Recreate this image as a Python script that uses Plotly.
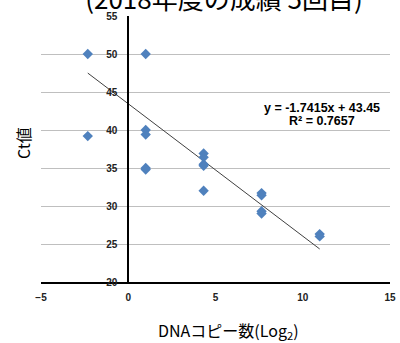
import plotly.graph_objects as go

# data
x_log2 = [-2.32, -2.32,
          1.0, 1.0, 1.0, 1.0, 1.0,
          4.32, 4.32, 4.32, 4.32, 4.32,
          7.64, 7.64, 7.64, 7.64,
          10.97, 10.97]
ct_values = [50.0, 39.2,
             50.0, 40.0, 39.4, 35.0, 34.8,
             36.9, 36.4, 35.5, 35.3, 32.0,
             31.7, 31.4, 29.3, 29.0,
             26.3, 26.0]
trend_slope = -1.7415
trend_intercept = 43.45
r_squared = 0.7657
x_ticks = [-5, 0, 5, 10, 15]
y_ticks = [20, 25, 30, 35, 40, 45, 50, 55]

x_min, x_max = min(x_log2), max(x_log2)
trend_x = [x_min, x_max]
trend_y = [trend_slope * v + trend_intercept for v in trend_x]

fig = go.Figure()
fig.add_trace(go.Scatter(x=trend_x, y=trend_y, mode="lines",
                         line=dict(color="#404040", width=1), hoverinfo="skip",
                         showlegend=False))
fig.add_trace(go.Scatter(x=x_log2, y=ct_values, mode="markers",
                         marker=dict(symbol="diamond", size=8, color="#4f81bd",
                                     line=dict(width=0)),
                         showlegend=False))

tick_font = dict(family="Liberation Sans, Arial", size=10, color="#222", weight="bold")

L, T, W, H = 41, 15.5, 349, 266.2


def px_x(px):
    return (px - L) / W


def px_y(py):
    return 1 - (py - T) / H


fig.update_layout(
    width=400, height=343,
    margin=dict(l=41, r=10, t=15.5, b=61.3, autoexpand=False),
    paper_bgcolor="white", plot_bgcolor="white",
    title=dict(text="(2018年度の成績 5回目)", x=0.56, xanchor="center",
               y=1.0, yanchor="middle", yref="container",
               font=dict(family="Noto Sans CJK JP", size=26, color="black")),
    xaxis=dict(range=[-5, 15], tickvals=x_ticks, showgrid=False, zeroline=False,
               showline=True, linecolor="black", linewidth=2,
               ticks="outside", ticklen=5, tickcolor="rgba(0,0,0,0)",
               tickfont=tick_font, fixedrange=True),
    yaxis=dict(range=[20, 55], tickvals=y_ticks, showgrid=True, gridcolor="#bfbfbf",
               gridwidth=1, zeroline=False, showline=True, linecolor="black",
               linewidth=2, anchor="free", position=0.25,
               ticks="outside", ticklen=8, tickcolor="rgba(0,0,0,0)",
               tickfont=tick_font, fixedrange=True),
    annotations=[
        dict(text="y = %.4fx + %.2f" % (trend_slope, trend_intercept),
             xref="paper", yref="paper", x=px_x(322), y=px_y(108),
             showarrow=False, xanchor="center", yanchor="middle",
             font=dict(family="Liberation Sans, Arial", size=12.5, color="black",
                       weight="bold")),
        dict(text="R² = %.4f" % r_squared,
             xref="paper", yref="paper", x=px_x(322), y=px_y(121),
             showarrow=False, xanchor="center", yanchor="middle",
             font=dict(family="Liberation Sans, Arial", size=12.5, color="black",
                       weight="bold")),
        dict(text="DNAコピー数(Log<sub>2</sub>)", xref="paper", yref="paper",
             x=px_x(228), y=px_y(330),
             showarrow=False, xanchor="center", yanchor="middle",
             font=dict(family="Noto Sans CJK JP", size=16, color="black")),
        dict(text="Ct値", xref="paper", yref="paper", textangle=-90,
             x=px_x(23.5), y=px_y(143),
             showarrow=False, xanchor="center", yanchor="middle",
             font=dict(family="Noto Sans CJK JP", size=16, color="black")),
    ],
)

fig.write_html("out.html", config={"displayModeBar": False},
               post_script="document.body.style.margin='0';document.body.style.overflow='hidden';")
